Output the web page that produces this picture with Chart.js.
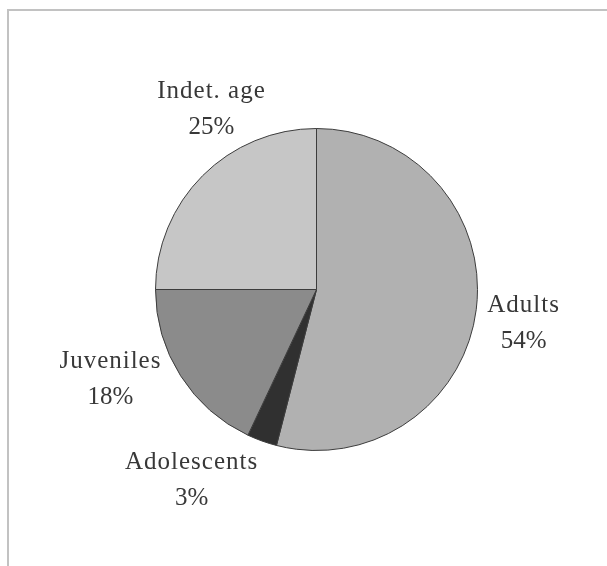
<!DOCTYPE html>
<html>
<head>
<meta charset="utf-8">
<script src="https://cdn.jsdelivr.net/npm/chart.js@4"></script>
<style>
    html, body { margin: 0; padding: 0; background: #fff; }
    #wrap { position: relative; width: 607px; height: 566px; overflow: hidden; }
    #frame {
        position: absolute; left: 7px; top: 9px; width: 700px; height: 700px;
        border-left: 2px solid #c2c2c2; border-top: 2px solid #c2c2c2;
    }
    canvas { position: absolute; left: 0; top: 0; }
</style>
</head>
<body>
<div id="wrap">
    <div id="frame"></div>
    <canvas id="pie" width="607" height="566"></canvas>
</div>
<script>
// data
const categories = ['Adults', 'Adolescents', 'Juveniles', 'Indet. age'];
const shares = [54, 3, 18, 25];
const sliceColors = ['#b1b1b1', '#303030', '#8b8b8b', '#c6c6c6'];

// where each label sits, relative to the pie centre in units of the radius
const labelOffsets = [[1.286, 0.21], [-0.776, 1.186], [-1.28, 0.56], [-0.652, -1.118]];

const labelPlugin = {
    id: 'sliceLabels',
    afterDatasetsDraw(chart) {
        const ctx = chart.ctx;
        const arcs = chart.getDatasetMeta(0).data;
        ctx.save();
        ctx.fillStyle = '#383838';
        ctx.font = '25px "Liberation Serif", "Times New Roman", serif';
        ctx.textAlign = 'center';
        ctx.textBaseline = 'middle';
        arcs.forEach((arc, i) => {
            const r = arc.outerRadius;
            const x = arc.x + labelOffsets[i][0] * r;
            const y = arc.y + labelOffsets[i][1] * r;
            ctx.letterSpacing = '1px';
            ctx.fillText(categories[i], x, y - 18);
            ctx.letterSpacing = '0px';
            ctx.fillText(shares[i] + '%', x, y + 18);
        });
        ctx.restore();
    }
};

new Chart(document.getElementById('pie').getContext('2d'), {
    type: 'pie',
    data: {
        labels: categories,
        datasets: [{
            data: shares,
            backgroundColor: sliceColors,
            borderColor: '#3c3c3c',
            borderWidth: 1
        }]
    },
    options: {
        responsive: false,
        animation: false,
        layout: { padding: { left: 155, right: 129, top: 128, bottom: 115 } },
        plugins: {
            legend: { display: false },
            tooltip: { enabled: false }
        }
    },
    plugins: [labelPlugin]
});
</script>
</body>
</html>
